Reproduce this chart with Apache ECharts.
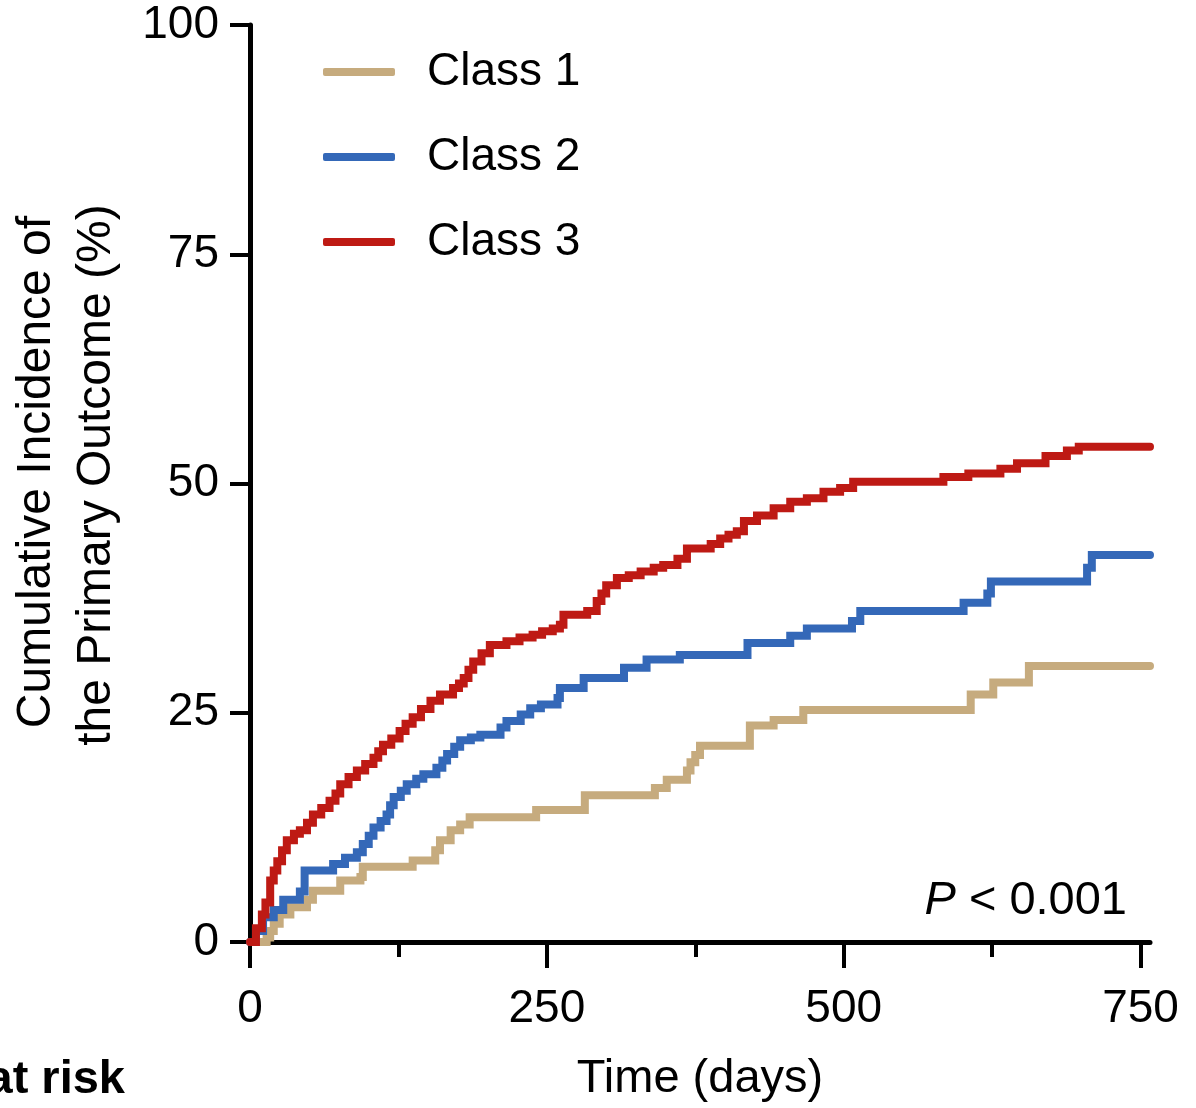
<!DOCTYPE html>
<html>
<head>
<meta charset="utf-8">
<script src="https://cdn.jsdelivr.net/npm/echarts@6/dist/echarts.min.js"></script>
<style>
html,body{margin:0;padding:0;background:#fff;}
#chart{width:1196px;height:1108px;}
</style>
</head>
<body>
<div id="chart"></div>
<script>
// ---- Data ----
const seriesNames = ["Class 1", "Class 2", "Class 3"];
const xMajorTicks = [0, 250, 500, 750];
const xMinorTicks = [125, 375, 625];
const yTicks = [0, 25, 50, 75, 100];

// [day, cumulative incidence %] — step after each day
const class1 = [
  [0,0],[14,0.5],[17,1.2],[20,2.0],[25,3.0],[34,3.8],[48,4.6],[53,5.6],[76,6.7],[93,7.1],[95,8.2],
  [137,8.9],[156,10.0],[160,11.1],[169,12.2],[177,12.8],[185,13.6],[241,14.4],[282,16.0],[341,16.8],
  [351,17.7],[368,18.7],[371,19.6],[375,20.4],[379,21.4],[421,23.6],[441,24.2],[466,25.3],
  [607,27.0],[626,28.3],[656,30.1],[758,30.1]
];
const class2 = [
  [0,0],[5,1.2],[11,2.7],[20,3.5],[28,4.6],[42,5.5],[46,7.8],[65,7.8],[70,8.5],[80,9.2],[90,9.8],
  [95,10.7],[100,11.6],[104,12.5],[110,13.2],[115,13.9],[118,14.9],[121,15.8],[127,16.5],[132,17.2],
  [140,17.8],[146,18.3],[157,19.0],[162,19.8],[166,20.5],[172,21.3],[177,22.0],[186,22.3],[194,22.6],
  [211,23.4],[216,24.1],[228,24.8],[236,25.5],[245,25.9],[259,26.6],[261,27.7],[281,28.8],[315,29.9],
  [334,30.8],[362,31.3],[419,32.6],[455,33.4],[469,34.2],[507,35.0],[514,36.1],[601,37.0],[621,38.0],
  [624,39.3],[705,40.8],[709,42.2],[758,42.2]
];
const class3 = [
  [0,0],[5,1.5],[10,3.0],[13,4.3],[17,6.7],[20,7.8],[23,8.8],[27,10.0],[31,11.1],[37,11.8],[42,12.2],
  [48,13.0],[53,13.9],[60,14.6],[67,15.4],[72,16.2],[76,17.2],[83,18.0],[90,18.7],[97,19.4],[104,20.1],
  [108,20.8],[112,21.5],[119,22.2],[126,23.0],[131,23.8],[137,24.5],[144,25.4],[152,26.3],[160,27.0],
  [171,27.7],[176,28.2],[180,28.8],[184,29.7],[188,30.6],[195,31.5],[202,32.4],[216,32.8],[227,33.2],
  [238,33.5],[246,33.9],[255,34.2],[261,34.6],[264,35.7],[284,36.1],[292,37.2],[296,38.0],[300,38.9],
  [309,39.7],[319,40.0],[329,40.4],[340,40.8],[348,41.1],[360,41.8],[368,42.9],[388,43.4],[396,44.0],
  [403,44.4],[410,44.8],[416,45.9],[427,46.5],[441,47.3],[455,48.0],[469,48.4],[483,49.1],[497,49.5],
  [508,50.2],[584,50.7],[605,51.1],[632,51.6],[646,52.2],[670,53.0],[688,53.6],[698,54.0],[758,54.0]
];

const colors = ["#C6AB7E", "#3468B8", "#BE1A14"];
const FONT = "'Liberation Sans', Arial, Helvetica, sans-serif";

const chart = echarts.init(document.getElementById('chart'), null, {renderer: 'canvas'});

const lineSeries = (name, data, color, z) => ({
  name, type: 'line', data, step: 'end', symbol: 'none', z,
  xAxisIndex: 0, yAxisIndex: 0,
  lineStyle: {color, width: 8, cap: 'round', join: 'miter'},
  itemStyle: {color},
  emphasis: {disabled: true}, animation: false
});

chart.setOption({
  backgroundColor: '#ffffff',
  animation: false,
  textStyle: {fontFamily: FONT},
  grid: {left: 250, right: 46, top: 25, bottom: 163, containLabel: false},
  legend: {
    orient: 'vertical', left: 318, top: 42,
    icon: 'roundRect', itemWidth: 72, itemHeight: 8, itemGap: 35,
    data: seriesNames,
    textStyle: {fontSize: 46, lineHeight: 50, color: '#000', fontFamily: FONT, padding: [0, 0, 0, 27]},
    selectedMode: false
  },
  xAxis: [{
    type: 'value', min: 0, max: 758, interval: 250, position: 'bottom',
    name: 'Time (days)', nameLocation: 'middle', nameGap: 114,
    nameTextStyle: {fontSize: 47, color: '#000', fontFamily: FONT},
    axisLine: {show: true, onZero: false, lineStyle: {color: '#000', width: 5}},
    axisTick: {show: true, inside: false, length: 26, lineStyle: {color: '#000', width: 4}, customValues: xMajorTicks},
    axisLabel: {show: true, fontSize: 46, color: '#000', margin: 44, fontFamily: FONT, customValues: xMajorTicks},
    splitLine: {show: false}
  }, {
    type: 'value', min: 0, max: 758, position: 'bottom', offset: 0,
    axisLine: {show: false},
    axisTick: {show: true, inside: false, length: 15, lineStyle: {color: '#000', width: 4}, customValues: xMinorTicks},
    axisLabel: {show: false},
    splitLine: {show: false}
  }],
  yAxis: {
    type: 'value', min: 0, max: 100, interval: 25,
    axisLine: {show: true, lineStyle: {color: '#000', width: 5}},
    axisTick: {show: true, inside: false, length: 20, lineStyle: {color: '#000', width: 4}, customValues: yTicks},
    axisLabel: {show: true, fontSize: 46, color: '#000', margin: 31, fontFamily: FONT, customValues: yTicks},
    splitLine: {show: false}
  },
  graphic: [
    {type: 'text', x: 37, y: 472, rotation: Math.PI / 2,
      style: {text: 'Cumulative Incidence of', fontSize: 48, fontFamily: FONT, fill: '#000', align: 'center', verticalAlign: 'middle'}},
    {type: 'text', x: 97, y: 475, rotation: Math.PI / 2,
      style: {text: 'the Primary Outcome (%)', fontSize: 48, fontFamily: FONT, fill: '#000', align: 'center', verticalAlign: 'middle'}},
    {type: 'text', x: 1127, y: 901,
      style: {text: '{i|P}{n| < 0.001}', align: 'right', verticalAlign: 'middle', fill: '#000',
        rich: {i: {fontSize: 47, fontStyle: 'italic', fontFamily: FONT, fill: '#000'},
               n: {fontSize: 47, fontFamily: FONT, fill: '#000'}}}},
    {type: 'text', x: 125, y: 1080,
      style: {text: 'at risk', fontSize: 47, fontWeight: 'bold', fontFamily: FONT, fill: '#000', align: 'right', verticalAlign: 'middle'}}
  ],
  series: [
    lineSeries(seriesNames[0], class1, colors[0], 3),
    lineSeries(seriesNames[1], class2, colors[1], 4),
    lineSeries(seriesNames[2], class3, colors[2], 5)
  ]
});
</script>
</body>
</html>
